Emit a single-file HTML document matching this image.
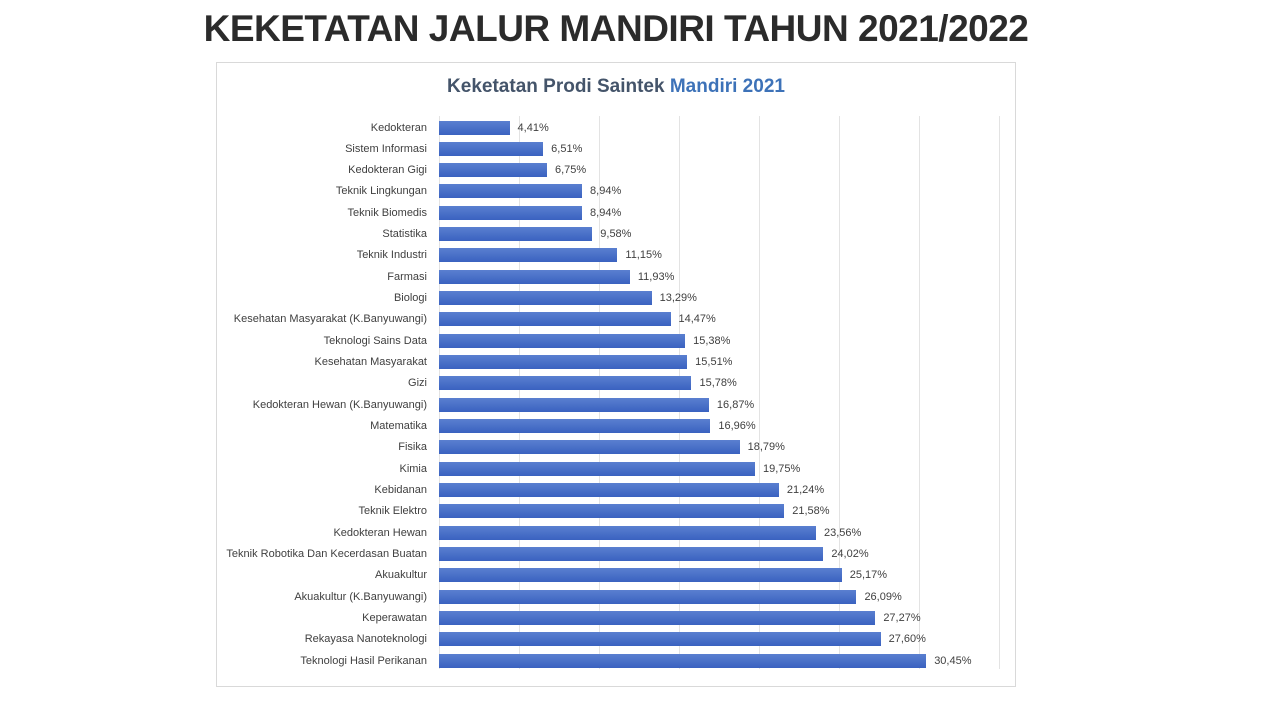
<!DOCTYPE html>
<html><head><meta charset="utf-8"><style>
body{margin:0;width:1280px;height:719px;background:#fff;position:relative;overflow:hidden;font-family:"Liberation Sans",sans-serif}
.t{position:absolute;left:0;width:1232px;top:8px;text-align:center;font-size:37px;font-weight:bold;color:#2b2b2b;letter-spacing:-0.5px}
.box{position:absolute;left:216px;top:62px;width:798px;height:623px;border:1px solid #d9d9d9}
.ct{position:absolute;left:216px;width:800px;top:76px;text-align:center;font-size:19px;font-weight:bold;color:#44546a}
.g{position:absolute;top:116px;height:553px;width:1px;background:#e3e3e3}
.l{position:absolute;right:853px;font-size:11px;color:#404040;white-space:nowrap;line-height:14px}
.b{position:absolute;left:439px;height:14px;background:linear-gradient(#5a7fd0,#3a62c0);}
.v{position:absolute;font-size:11px;color:#404040;line-height:14px}
</style></head><body>
<div class="t">KEKETATAN JALUR MANDIRI TAHUN 2021/2022</div>
<div class="box"></div>
<div class="ct">Keketatan Prodi Saintek <span style="color:#3d72b8">Mandiri 2021</span></div>
<div class="g" style="left:439px"></div><div class="g" style="left:519px"></div><div class="g" style="left:599px"></div><div class="g" style="left:679px"></div><div class="g" style="left:759px"></div><div class="g" style="left:839px"></div><div class="g" style="left:919px"></div><div class="g" style="left:999px"></div>
<div id="c"></div>
<script>
var d=[["Kedokteran",4.41],["Sistem Informasi",6.51],["Kedokteran Gigi",6.75],["Teknik Lingkungan",8.94],["Teknik Biomedis",8.94],["Statistika",9.58],["Teknik Industri",11.15],["Farmasi",11.93],["Biologi",13.29],["Kesehatan Masyarakat (K.Banyuwangi)",14.47],["Teknologi Sains Data",15.38],["Kesehatan Masyarakat",15.51],["Gizi",15.78],["Kedokteran Hewan (K.Banyuwangi)",16.87],["Matematika",16.96],["Fisika",18.79],["Kimia",19.75],["Kebidanan",21.24],["Teknik Elektro",21.58],["Kedokteran Hewan",23.56],["Teknik Robotika Dan Kecerdasan Buatan",24.02],["Akuakultur",25.17],["Akuakultur (K.Banyuwangi)",26.09],["Keperawatan",27.27],["Rekayasa Nanoteknologi",27.6],["Teknologi Hasil Perikanan",30.45]];
var h="";d.forEach(function(r,i){var y=120.5+i*21.32;var w=r[1]*16;
h+='<div class="l" style="top:'+y+'px">'+r[0]+'</div><div class="b" style="top:'+y+'px;width:'+w+'px"></div><div class="v" style="top:'+y+'px;left:'+(439+w+8)+'px">'+r[1].toFixed(2).replace(".",",")+'%</div>';});
document.getElementById("c").innerHTML=h;
</script>
</body></html>
